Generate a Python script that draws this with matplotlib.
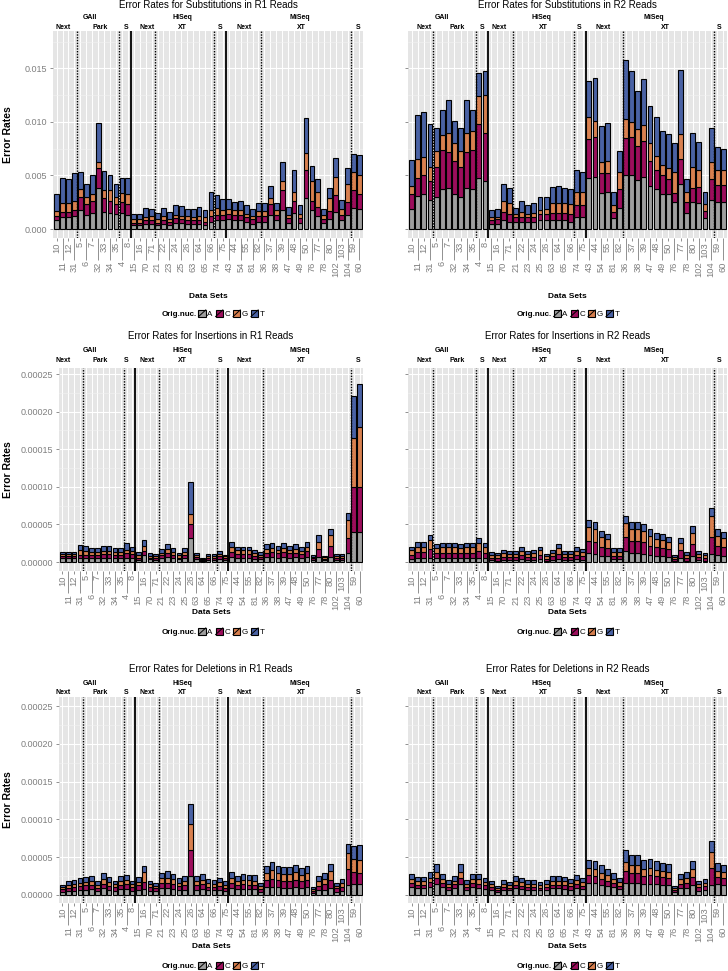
import numpy as np
import matplotlib
matplotlib.use("Agg")
import matplotlib.pyplot as plt
from matplotlib.patches import Patch, Rectangle
from matplotlib.lines import Line2D
from matplotlib.legend_handler import HandlerBase
from matplotlib.ticker import MultipleLocator

plt.rcParams["font.family"] = ["Liberation Sans", "DejaVu Sans"]

# ---------------------------------------------------------------- data
data_sets = ["10", "11", "12", "31", "5", "6", "7", "32", "33", "34", "35", "4", "8",
             "15", "16", "70", "71", "21", "22", "23", "24", "25", "26", "63", "64",
             "65", "66", "74", "75",
             "43", "44", "54", "55", "81", "82", "36", "37", "38", "39", "47", "48",
             "49", "50", "76", "77", "78", "80", "102", "103", "104", "59", "60"]

platforms = ["GAII", "HiSeq", "MiSeq"]
platform_sizes = [13, 16, 23]
sub_labels = ["Next", "Park", "S", "Next", "XT", "S", "Next", "XT", "S"]
sub_sizes = [4, 7, 2, 4, 10, 2, 6, 15, 2]

nucs = ["A", "C", "G", "T"]
nuc_colors = {"A": "#9E9E9E", "C": "#9C0E5C", "G": "#D8804F", "T": "#4A62A4"}

# upper edge of each stacked segment (A, A+C, A+C+G, total)
# substitutions, units of 1e-3
sub_r1_A = [0.87, 1.12, 1.10, 1.24, 1.80, 1.30, 1.50, 3.80, 1.60, 1.50, 1.40, 1.50, 1.30,
            0.40, 0.40, 0.50, 0.50, 0.40, 0.50, 0.40, 0.60, 0.60, 0.50, 0.50, 0.50, 0.40,
            0.70, 0.80, 0.80,
            0.90, 0.80, 0.80, 0.70, 0.50, 0.70, 0.70, 1.30, 0.80, 1.80, 0.60, 1.50, 0.60,
            2.90, 1.80, 1.20, 0.60, 0.90, 1.60, 0.80, 1.30, 2.00, 1.90]
sub_r1_C = [1.18, 1.55, 1.55, 1.80, 3.00, 2.30, 2.60, 5.70, 2.90, 2.60, 2.30, 2.50, 2.30,
            0.60, 0.60, 0.80, 0.80, 0.60, 0.80, 0.70, 1.00, 0.90, 0.80, 0.80, 0.80, 0.70,
            1.20, 1.30, 1.30,
            1.40, 1.30, 1.30, 1.10, 0.90, 1.20, 1.20, 2.30, 1.30, 3.60, 1.00, 2.60, 1.00,
            5.50, 2.60, 2.10, 0.90, 1.70, 3.20, 1.30, 2.50, 3.60, 3.30]
sub_r1_G = [1.65, 2.42, 2.40, 2.64, 3.70, 3.00, 3.30, 6.30, 3.60, 3.60, 3.00, 3.40, 3.30,
            0.90, 0.90, 1.10, 1.20, 0.90, 1.20, 0.90, 1.30, 1.20, 1.20, 1.10, 1.20, 1.10,
            1.80, 2.00, 1.80,
            1.90, 1.80, 1.80, 1.40, 1.20, 1.70, 1.70, 2.90, 1.80, 4.50, 1.30, 3.50, 1.40,
            7.10, 4.50, 3.50, 1.30, 2.90, 4.90, 1.90, 4.20, 5.30, 5.00]
sub_r1_T = [3.26, 4.80, 4.70, 5.20, 5.35, 4.20, 5.00, 9.90, 5.40, 5.00, 4.20, 4.80, 4.75,
            1.43, 1.43, 2.00, 1.86, 1.50, 1.96, 1.55, 2.27, 2.17, 1.90, 1.86, 2.10, 1.80,
            3.45, 3.20, 2.80,
            2.80, 2.55, 2.58, 2.27, 1.86, 2.40, 2.40, 4.00, 2.40, 6.30, 2.10, 5.50, 2.20,
            10.40, 5.90, 4.70, 1.90, 3.85, 6.60, 2.67, 5.70, 7.00, 6.90]

sub_r2_A = [1.90, 3.10, 3.30, 2.70, 3.00, 3.70, 3.80, 3.30, 3.00, 3.80, 3.70, 4.80, 4.50,
            0.50, 0.50, 0.80, 0.70, 0.70, 0.70, 0.70, 0.70, 0.80, 0.80, 0.80, 0.80, 0.80,
            0.70, 1.10, 1.10,
            4.80, 4.90, 3.40, 3.50, 1.00, 2.00, 5.00, 5.00, 4.60, 4.90, 4.00, 3.70, 3.30,
            3.30, 2.50, 4.20, 1.50, 2.50, 2.40, 1.00, 2.70, 2.50, 2.50]
sub_r2_C = [3.30, 4.80, 5.00, 4.50, 5.80, 7.40, 7.20, 6.40, 5.80, 7.20, 7.40, 9.80, 9.00,
            0.80, 0.90, 1.60, 1.40, 1.10, 1.10, 1.10, 1.10, 1.40, 1.40, 1.50, 1.50, 1.50,
            1.40, 2.20, 2.20,
            8.40, 8.60, 5.20, 5.20, 1.60, 3.70, 8.50, 8.60, 7.80, 8.20, 6.40, 5.50, 5.00,
            4.70, 3.40, 6.50, 2.50, 3.80, 3.90, 1.70, 4.70, 4.10, 4.10]
sub_r2_G = [4.00, 6.50, 6.70, 5.80, 7.30, 8.80, 9.00, 8.00, 7.30, 9.00, 9.20, 12.40, 12.50,
            1.10, 1.10, 2.60, 2.40, 1.40, 1.60, 1.40, 1.50, 1.80, 1.90, 2.40, 2.40, 2.40,
            2.30, 3.50, 3.50,
            10.50, 10.10, 6.30, 6.40, 2.20, 5.30, 10.30, 10.00, 9.30, 9.70, 8.00, 6.80, 6.00,
            5.70, 5.30, 8.90, 3.50, 5.80, 5.50, 2.30, 6.30, 5.50, 5.50]
sub_r2_T = [6.46, 10.65, 10.90, 9.80, 9.40, 11.10, 12.10, 10.10, 9.40, 12.10, 11.10, 14.60, 14.80,
            1.74, 1.90, 4.20, 3.80, 2.00, 2.60, 2.20, 2.40, 3.00, 3.00, 3.90, 4.00, 3.80,
            3.70, 5.50, 5.30,
            13.80, 14.10, 9.60, 9.90, 3.45, 7.30, 15.80, 14.80, 12.90, 14.00, 11.50, 10.50, 9.20,
            8.90, 8.00, 14.90, 4.70, 9.00, 8.10, 3.45, 9.40, 7.70, 7.50]

# insertions, units of 1e-5
ins_r1_A = [0.50, 0.50, 0.50, 0.60, 0.60, 0.60, 0.60, 0.60, 0.60, 0.55, 0.55, 0.60, 0.60,
            0.30, 0.90, 0.35, 0.30, 0.50, 0.65, 0.55, 0.35, 0.50, 3.16, 0.35, 0.15, 0.30,
            0.30, 0.40, 0.30,
            0.70, 0.60, 0.60, 0.60, 0.45, 0.40, 0.65, 0.70, 0.60, 0.70, 0.60, 0.65, 0.60,
            0.70, 0.25, 0.70, 0.25, 0.70, 0.30, 0.30, 1.18, 4.00, 4.00]
ins_r1_C = [0.80, 0.80, 0.80, 1.00, 1.00, 0.95, 0.95, 1.05, 1.05, 0.95, 0.95, 1.20, 1.05,
            0.60, 1.50, 0.60, 0.55, 0.90, 1.20, 0.95, 0.60, 0.90, 5.04, 0.65, 0.30, 0.55,
            0.55, 0.75, 0.55,
            1.40, 1.10, 1.10, 1.10, 0.85, 0.70, 1.25, 1.35, 1.15, 1.30, 1.15, 1.25, 1.10,
            1.45, 0.50, 1.80, 0.45, 2.20, 0.60, 0.60, 3.16, 10.00, 10.00]
ins_r1_G = [1.05, 1.05, 1.05, 1.60, 1.50, 1.35, 1.35, 1.50, 1.50, 1.35, 1.35, 1.65, 1.45,
            0.90, 2.10, 0.85, 0.80, 1.25, 1.75, 1.35, 0.90, 1.35, 6.45, 0.95, 0.40, 0.80,
            0.80, 1.05, 0.75,
            1.95, 1.55, 1.55, 1.55, 1.20, 1.00, 1.75, 1.90, 1.60, 1.85, 1.60, 1.75, 1.50,
            2.05, 0.70, 2.70, 0.65, 3.60, 0.85, 0.85, 5.57, 16.50, 17.90]
ins_r1_T = [1.36, 1.36, 1.36, 2.24, 2.15, 1.84, 1.84, 2.15, 2.15, 1.84, 1.84, 2.50, 1.97,
            1.36, 2.94, 1.18, 1.05, 1.71, 2.41, 1.84, 1.18, 1.93, 10.60, 1.18, 0.53, 1.01,
            1.05, 1.45, 0.96,
            2.63, 2.06, 2.06, 2.06, 1.62, 1.36, 2.37, 2.59, 2.15, 2.50, 2.15, 2.37, 2.06,
            2.72, 0.92, 3.55, 0.83, 4.39, 1.10, 1.10, 6.54, 22.10, 23.70]

ins_r2_A = [0.45, 0.50, 0.50, 0.60, 0.50, 0.50, 0.50, 0.50, 0.50, 0.50, 0.50, 0.60, 0.55,
            0.25, 0.20, 0.30, 0.30, 0.30, 0.35, 0.30, 0.30, 0.35, 0.20, 0.30, 0.40, 0.30,
            0.30, 0.35, 0.30,
            1.18, 1.10, 0.80, 0.75, 0.35, 0.35, 1.49, 1.20, 1.20, 1.10, 0.90, 0.80, 0.75,
            0.70, 0.15, 0.60, 0.20, 0.80, 0.25, 0.20, 1.10, 0.90, 0.85]
ins_r2_C = [1.00, 1.30, 1.30, 1.70, 1.20, 1.25, 1.25, 1.25, 1.20, 1.25, 1.25, 1.50, 1.25,
            0.60, 0.50, 0.70, 0.70, 0.70, 0.90, 0.70, 0.70, 0.95, 0.45, 0.75, 1.10, 0.70,
            0.70, 0.90, 0.80,
            2.85, 2.70, 2.00, 1.85, 0.85, 0.85, 3.38, 2.80, 2.80, 2.60, 2.20, 1.95, 1.85,
            1.70, 0.40, 1.60, 0.55, 2.40, 0.70, 0.55, 3.38, 2.20, 2.00]
ins_r2_G = [1.55, 2.00, 2.00, 2.90, 1.85, 1.95, 1.95, 1.95, 1.85, 1.95, 1.95, 2.50, 1.95,
            1.00, 0.90, 1.15, 1.10, 1.10, 1.50, 1.10, 1.15, 1.60, 0.80, 1.25, 1.85, 1.10,
            1.10, 1.45, 1.30,
            4.69, 4.40, 3.30, 3.00, 1.40, 1.40, 5.13, 4.40, 4.40, 4.10, 3.50, 3.10, 2.95,
            2.70, 0.65, 2.55, 0.95, 3.80, 1.10, 0.90, 6.10, 3.50, 3.20]
ins_r2_T = [2.06, 2.63, 2.63, 3.60, 2.41, 2.50, 2.50, 2.50, 2.41, 2.50, 2.50, 3.16, 2.50,
            1.32, 1.18, 1.54, 1.49, 1.49, 1.97, 1.49, 1.54, 2.06, 1.01, 1.62, 2.37, 1.49,
            1.49, 1.97, 1.71,
            5.57, 5.26, 4.12, 3.73, 1.84, 1.84, 6.18, 5.35, 5.35, 5.00, 4.34, 3.90, 3.68,
            3.38, 0.88, 3.25, 1.27, 4.78, 1.45, 1.18, 7.15, 4.39, 4.04]

# deletions, units of 1e-5
del_r1_A = [0.45, 0.55, 0.55, 0.65, 0.70, 0.75, 0.55, 0.85, 0.70, 0.55, 0.75, 0.80, 0.55,
            0.70, 0.80, 0.55, 0.50, 0.85, 0.90, 0.80, 0.65, 0.70, 2.50, 0.70, 0.80, 0.65,
            0.60, 0.65, 0.55,
            0.90, 0.75, 0.80, 0.80, 0.75, 0.45, 1.00, 1.05, 1.00, 0.95, 0.95, 1.00, 0.90,
            1.00, 0.25, 0.60, 0.70, 0.90, 0.45, 0.55, 1.30, 1.50, 1.50]
del_r1_C = [0.75, 0.95, 1.00, 1.15, 1.25, 1.30, 0.95, 1.50, 1.20, 1.00, 1.30, 1.40, 1.00,
            1.25, 1.75, 1.00, 0.85, 1.55, 1.60, 1.45, 1.15, 1.30, 5.97, 1.30, 1.40, 1.10,
            1.05, 1.20, 0.95,
            1.60, 1.30, 1.40, 1.35, 1.35, 0.80, 1.95, 2.10, 1.95, 1.90, 1.85, 2.00, 1.80,
            1.95, 0.55, 1.20, 1.40, 2.00, 0.85, 1.05, 3.40, 3.00, 2.90]
del_r1_G = [1.00, 1.35, 1.40, 1.60, 1.75, 1.85, 1.35, 2.15, 1.70, 1.40, 1.85, 2.00, 1.40,
            1.75, 3.00, 1.40, 1.20, 2.20, 2.30, 2.05, 1.60, 1.80, 9.42, 1.80, 2.00, 1.60,
            1.45, 1.70, 1.35,
            2.25, 1.85, 2.00, 1.95, 1.90, 1.15, 2.90, 3.30, 2.90, 2.80, 2.75, 3.00, 2.65,
            2.90, 0.80, 1.85, 2.10, 3.20, 1.20, 1.60, 5.50, 4.70, 4.60]
del_r1_T = [1.33, 1.86, 1.95, 2.21, 2.39, 2.48, 1.86, 2.92, 2.35, 1.90, 2.52, 2.70, 1.90,
            2.43, 3.85, 1.90, 1.64, 2.96, 3.14, 2.79, 2.21, 2.48, 12.00, 2.48, 2.74, 2.17,
            1.99, 2.30, 1.81,
            3.05, 2.52, 2.74, 2.65, 2.61, 1.55, 3.89, 4.42, 3.89, 3.76, 3.67, 3.98, 3.54,
            3.89, 1.11, 2.52, 2.88, 4.12, 1.64, 2.17, 6.73, 6.42, 6.55]

del_r2_A = [1.00, 0.85, 0.85, 1.00, 1.40, 1.00, 0.70, 0.90, 1.40, 0.70, 1.00, 0.95, 0.80,
            0.65, 0.40, 0.65, 0.60, 0.85, 0.75, 0.65, 0.70, 0.60, 0.65, 0.85, 0.85, 0.80,
            0.70, 0.90, 0.75,
            1.60, 1.55, 1.35, 1.20, 1.00, 0.75, 1.64, 1.60, 1.60, 1.45, 1.50, 1.40, 1.35,
            1.30, 0.35, 0.85, 0.90, 1.30, 0.55, 0.65, 1.33, 1.40, 1.30]
del_r2_C = [1.55, 1.35, 1.35, 1.65, 2.20, 1.55, 1.10, 1.40, 2.20, 1.10, 1.55, 1.50, 1.25,
            1.00, 0.65, 1.05, 0.95, 1.35, 1.20, 1.05, 1.10, 0.95, 1.05, 1.35, 1.35, 1.30,
            1.15, 1.45, 1.20,
            2.60, 2.50, 2.15, 1.90, 1.55, 1.20, 3.19, 2.90, 2.90, 2.55, 2.65, 2.45, 2.35,
            2.25, 0.60, 1.50, 1.60, 2.40, 1.00, 1.15, 3.54, 2.40, 2.25]
del_r2_G = [2.10, 1.80, 1.80, 2.25, 3.00, 2.10, 1.45, 1.90, 3.00, 1.45, 2.10, 2.05, 1.70,
            1.40, 0.90, 1.45, 1.30, 1.85, 1.65, 1.45, 1.50, 1.30, 1.45, 1.85, 1.85, 1.80,
            1.55, 1.95, 1.65,
            3.50, 3.40, 2.95, 2.60, 2.15, 1.65, 4.42, 3.90, 3.90, 3.45, 3.60, 3.35, 3.20,
            3.05, 0.85, 2.10, 2.25, 3.40, 1.40, 1.60, 5.62, 3.20, 3.00]
del_r2_T = [2.79, 2.39, 2.39, 3.01, 4.07, 2.79, 1.95, 2.57, 4.07, 1.95, 2.79, 2.74, 2.30,
            1.86, 1.24, 1.99, 1.77, 2.48, 2.21, 1.99, 2.04, 1.77, 1.95, 2.48, 2.48, 2.43,
            2.12, 2.65, 2.26,
            4.65, 4.51, 3.94, 3.45, 2.88, 2.21, 5.97, 5.27, 5.27, 4.65, 4.82, 4.51, 4.29,
            4.12, 1.19, 2.79, 3.01, 4.47, 1.86, 2.17, 7.08, 4.20, 3.98]

sub_yticks = [0.0, 0.005, 0.010, 0.015]
sub_ylabels = ["0.000", "0.005", "0.010", "0.015"]
indel_yticks = [0.0, 0.00005, 0.00010, 0.00015, 0.00020, 0.00025]
indel_ylabels = ["0.00000", "0.00005", "0.00010", "0.00015", "0.00020", "0.00025"]

# ---------------------------------------------------------------- layout (pixels)
W, H = 728, 971
fig = plt.figure(figsize=(W / 100, H / 100), dpi=100)

GRAY_TXT = "#7F7F7F"


def px_axes(x0, y0, x1, y1):
    return fig.add_axes([x0 / W, 1 - y1 / H, (x1 - x0) / W, (y1 - y0) / H])


class SlashHandler(HandlerBase):
    def create_artists(self, legend, orig_handle, xdescent, ydescent,
                       width, height, fontsize, trans):
        rect = Rectangle((-xdescent, -ydescent), width, height,
                         facecolor=orig_handle.get_facecolor(),
                         edgecolor="black", linewidth=0.8, transform=trans)
        line = Line2D([-xdescent, -xdescent + width], [-ydescent, -ydescent + height],
                      color="black", linewidth=0.7, transform=trans)
        return [rect, line]


def draw_panel(ax, tops, scale, ylim, yticks, ylabels, show_ylabels, title,
               ypx, plat_x, sub_x, leg_x):
    x = np.arange(len(data_sets))
    bottom = np.zeros(len(x))
    for nuc, top in zip(nucs, tops):
        top = np.array(top) * scale
        ax.bar(x, top - bottom, bottom=bottom, width=0.8, color=nuc_colors[nuc],
               edgecolor="black", linewidth=0.8, zorder=3)
        bottom = top

    ax.set_xlim(-0.6, len(x) - 0.4)
    ax.set_ylim(*ylim)
    ax.set_facecolor("#E5E5E5")
    for s in ax.spines.values():
        s.set_visible(False)

    # staggered tick labels: even positions close, odd positions further down
    ax.set_xticks(x[::2], [data_sets[i] for i in x[::2]])
    ax.set_xticks(x[1::2], [data_sets[i] for i in x[1::2]], minor=True)
    ax.tick_params(axis="x", which="major", length=2.2, width=0.6, color=GRAY_TXT,
                   labelsize=6.7, labelcolor=GRAY_TXT, labelrotation=90, pad=0.8)
    ax.tick_params(axis="x", which="minor", length=16, width=0.6, color=GRAY_TXT,
                   labelsize=6.7, labelcolor=GRAY_TXT, labelrotation=90, pad=0.8)

    ax.set_yticks(yticks)
    ax.set_yticklabels(ylabels if show_ylabels else [])
    ax.yaxis.set_minor_locator(MultipleLocator(yticks[1] / 2))
    ax.tick_params(axis="y", which="major", length=2.5, width=0.6, color=GRAY_TXT,
                   labelsize=6.5, labelcolor=GRAY_TXT, pad=1.5)
    ax.tick_params(axis="y", which="minor", length=0)

    ax.grid(True, axis="x", which="both", color="white", linewidth=0.7, zorder=0)
    ax.grid(True, axis="y", which="major", color="white", linewidth=0.8, zorder=0)
    ax.grid(True, axis="y", which="minor", color="#F2F2F2", linewidth=0.4, zorder=0)
    ax.set_axisbelow(True)

    # group separators
    edges = np.cumsum(sub_sizes)[:-1]
    plat_edges = set(np.cumsum(platform_sizes)[:-1])
    for e in edges:
        if e in plat_edges:
            ax.axvline(e - 0.5, color="black", linewidth=1.3, zorder=4)
        else:
            ax.axvline(e - 0.5, color="black", linewidth=1.0,
                       linestyle=(0, (1, 1)), zorder=4)

    y_title, y_plat, y_sub, y_xlab, y_leg = ypx
    xc = (ax.get_position().x0 + ax.get_position().x1) / 2
    fig.text(xc, 1 - y_title / H, title, ha="center", va="center", fontsize=7)
    for name, px in zip(platforms, plat_x):
        fig.text(px / W, 1 - y_plat / H, name, ha="center", va="center",
                 fontsize=5, fontweight="bold")
    for name, px in zip(sub_labels, sub_x):
        fig.text(px / W, 1 - y_sub / H, name, ha="center", va="center",
                 fontsize=5, fontweight="bold")
    fig.text(xc, 1 - y_xlab / H, "Data Sets", ha="center", va="center",
             fontsize=6, fontweight="bold")

    fig.text(leg_x / W, 1 - y_leg / H, "Orig.nuc.", ha="right", va="center",
             fontsize=5.8, fontweight="bold")
    handles = [Patch(facecolor=nuc_colors[n]) for n in nucs]
    fig.legend(handles, nucs, loc="center left",
               bbox_to_anchor=((leg_x + 1.5) / W, 1 - y_leg / H),
               ncol=4, frameon=False, fontsize=5.8, handlelength=0.9,
               handleheight=0.9, handletextpad=0.2, columnspacing=0.35,
               borderpad=0, borderaxespad=0,
               handler_map={Patch: SlashHandler()})


rows = [
    dict(y0=31, y1=238, lx0=53, ypx=(5.5, 17.3, 27.7, 297, 314),
         scale=1e-3, ylim=(-0.00084, 0.0185), yticks=sub_yticks, ylabels=sub_ylabels,
         left=(sub_r1_A, sub_r1_C, sub_r1_G, sub_r1_T),
         right=(sub_r2_A, sub_r2_C, sub_r2_G, sub_r2_T),
         kind="Substitutions"),
    dict(y0=368, y1=571, lx0=59, ypx=(336, 350, 360, 613, 632),
         scale=1e-5, ylim=(-0.0000119, 0.000258), yticks=indel_yticks, ylabels=indel_ylabels,
         left=(ins_r1_A, ins_r1_C, ins_r1_G, ins_r1_T),
         right=(ins_r2_A, ins_r2_C, ins_r2_G, ins_r2_T),
         kind="Insertions"),
    dict(y0=697, y1=903, lx0=59, ypx=(669, 683, 692, 946, 966),
         scale=1e-5, ylim=(-0.0000107, 0.000262), yticks=indel_yticks, ylabels=indel_ylabels,
         left=(del_r1_A, del_r1_C, del_r1_G, del_r1_T),
         right=(del_r2_A, del_r2_C, del_r2_G, del_r2_T),
         kind="Deletions"),
]

left_plat_x = [90, 182, 300]
left_sub_x = [63, 100, 126, 147, 182, 220, 244, 301.5, 358]
right_plat_x = [442, 541, 654]
right_sub_x = [424, 457.5, 482.3, 499.5, 543, 579, 603.3, 665.7, 719.5]

for r in rows:
    axl = px_axes(r["lx0"], r["y0"], 363, r["y1"])
    draw_panel(axl, r["left"], r["scale"], r["ylim"], r["yticks"], r["ylabels"], True,
               f"Error Rates for {r['kind']} in R1 Reads", r["ypx"],
               left_plat_x, left_sub_x, 197)
    axr = px_axes(408, r["y0"], 727, r["y1"])
    draw_panel(axr, r["right"], r["scale"], r["ylim"], r["yticks"], r["ylabels"], False,
               f"Error Rates for {r['kind']} in R2 Reads", r["ypx"],
               right_plat_x, right_sub_x, 552)
    yc = (r["y0"] + r["y1"]) / 2
    fig.text(8 / W, 1 - yc / H, "Error Rates", rotation=90, ha="center", va="center",
             fontsize=7.5, fontweight="bold")

fig.savefig("out.png", dpi=100)
